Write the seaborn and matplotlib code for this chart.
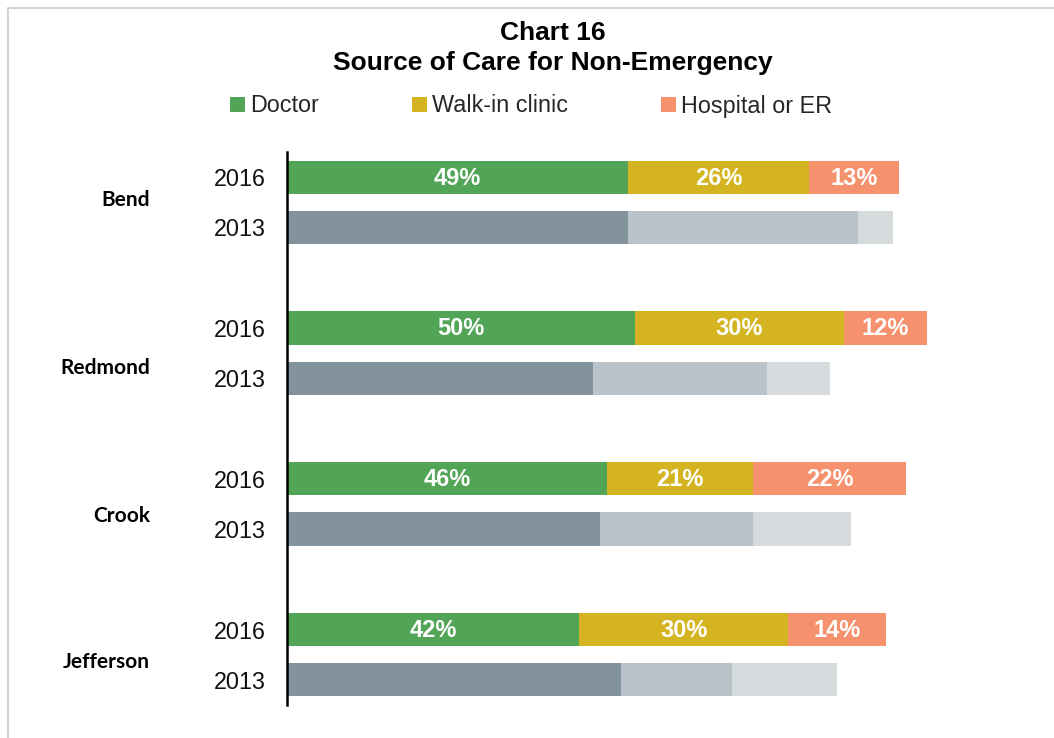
import matplotlib
matplotlib.use("Agg")
import matplotlib.pyplot as plt
import matplotlib.transforms as mtransforms
from matplotlib.patches import Patch, Rectangle
import numpy as np
import pandas as pd
import seaborn as sns

regions = ["Bend", "Redmond", "Crook", "Jefferson"]
years = ["2016", "2013"]
doctor_2016 = [49, 50, 46, 42]
walkin_2016 = [26, 30, 21, 30]
hospital_2016 = [13, 12, 22, 14]
doctor_2013 = [49, 44, 45, 48]
walkin_2013 = [33, 25, 22, 16]
hospital_2013 = [5, 9, 14, 15]
series = ["Doctor", "Walk-in clinic", "Hospital or ER"]

colors_2016 = ["#52a557", "#d4b420", "#f6916e"]
colors_2013 = ["#82939e", "#b9c3c9", "#d5dadd"]

sns.set_theme(style="white")
plt.rcParams["font.family"] = ["Liberation Sans", "DejaVu Sans"]

# Build rows; a blank spacer row separates each region
rows, order = [], []
for i, r in enumerate(regions):
    order += [f"{r} 2016", f"{r} 2013"]
    if i < len(regions) - 1:
        order.append(f"gap{i}")
    rows.append(dict(row=f"{r} 2016", region=r, year="2016",
                     doctor=doctor_2016[i], walkin=walkin_2016[i], hospital=hospital_2016[i]))
    rows.append(dict(row=f"{r} 2013", region=r, year="2013",
                     doctor=doctor_2013[i], walkin=walkin_2013[i], hospital=hospital_2013[i]))
df = pd.DataFrame(rows)
df["c1"] = df["doctor"]
df["c2"] = df["doctor"] + df["walkin"]
df["c3"] = df["c2"] + df["hospital"]

fig = plt.figure(figsize=(10.54, 7.38), dpi=100)
ax = fig.add_axes([287 / 1054, 1 - 705 / 738, 696 / 1054, 553 / 738])

# Stacked bars drawn as overlapping cumulative totals
for k, col in zip([2, 1, 0], ["c3", "c2", "c1"]):
    sns.barplot(data=df, x=col, y="row", hue="year", order=order,
                hue_order=years,
                palette={"2016": colors_2016[k], "2013": colors_2013[k]},
                dodge=False, width=0.66, saturation=1, linewidth=0,
                legend=False, ax=ax)

ax.set_xlim(0, 100)
ax.set_ylim(len(order) - 0.5, -0.5)
ax.set_xlabel("")
ax.set_ylabel("")
ax.set_xticks([])
ticklabels = [o.split(" ")[-1] if not o.startswith("gap") else "" for o in order]
ax.set_yticks(range(len(order)))
ax.set_yticklabels(ticklabels, fontsize=16.8, color="#111111")
ax.tick_params(axis="y", length=0, pad=15)
for s in ["top", "right", "bottom"]:
    ax.spines[s].set_visible(False)
ax.spines["left"].set_color("black")
ax.spines["left"].set_linewidth(1.8)

# Value labels on 2016 segments
for _, rw in df[df["year"] == "2016"].iterrows():
    y = order.index(rw["row"])
    starts = [0, rw["c1"], rw["c2"]]
    vals = [rw["doctor"], rw["walkin"], rw["hospital"]]
    for s0, v in zip(starts, vals):
        ax.text(s0 + v / 2, y + 0.02, f"{v}%", ha="center", va="center",
                color="white", fontsize=17, fontweight="bold")

# Region labels
trans = mtransforms.blended_transform_factory(ax.transAxes, ax.transData)
region_y = [0.46, 3.8, 6.74, 9.64]
for r, yy in zip(regions, region_y):
    ax.text(-0.197, yy, r, transform=trans, ha="right", va="center",
            fontsize=15, fontweight="bold", family=["Lato", "DejaVu Sans"],
            color="black")

# Titles
fig.text(553 / 1054, 1 - 33 / 738, "Chart 16", ha="center", va="center",
         fontsize=19, fontweight="bold", color="black")
fig.text(553 / 1054, 1 - 63 / 738, "Source of Care for Non-Emergency",
         ha="center", va="center", fontsize=19, fontweight="bold", color="black")

# Legend
handles = [Patch(facecolor=c, edgecolor="none") for c in colors_2016]
fig.legend(handles, series, loc="center", bbox_to_anchor=(531 / 1054, 1 - 106 / 738),
           ncol=3, frameon=False, fontsize=16.8, handlelength=0.65,
           handleheight=0.65, handletextpad=0.2, columnspacing=4.0)

# Outer frame
fig.patches.append(Rectangle((8 / 1054, -0.1), 1.2, 1 - 8 / 738 + 0.1,
                             transform=fig.transFigure, fill=False,
                             edgecolor="#c8cdd2", linewidth=1.2))

fig.savefig("out.png", dpi=100, facecolor="white")
